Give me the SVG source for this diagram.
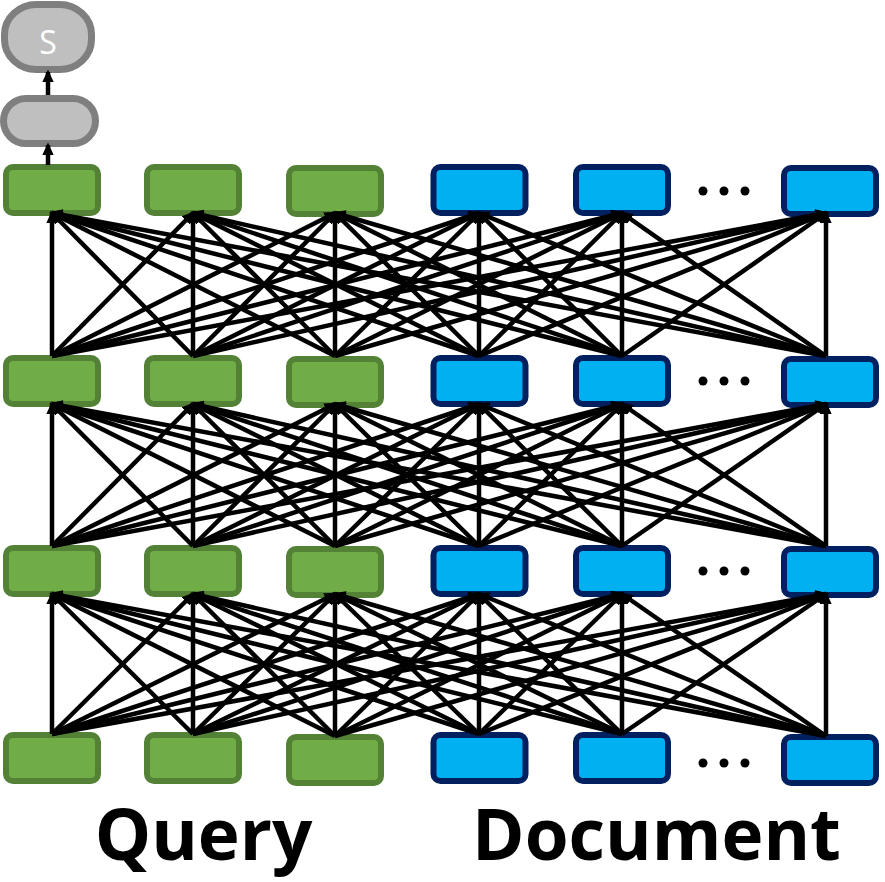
<svg xmlns="http://www.w3.org/2000/svg" width="885" height="882" viewBox="0 0 885 882">
<style>
.q{fill:#70AD47;stroke:#538135;stroke-width:6}
.d{fill:#00B0F0;stroke:#002060;stroke-width:6}
.g{fill:#BFBFBF;stroke:#7F7F7F;stroke-width:7}
.c line{stroke:#000;stroke-width:4.5;marker-end:url(#ah)}
.dot{fill:#000}
.lbl{font-family:"Open Sans","Liberation Sans",sans-serif;font-weight:bold;font-size:71px;fill:#000;text-anchor:middle}
</style>
<defs>
<marker id="ah" viewBox="0 0 10 10" refX="8" refY="5" markerWidth="13" markerHeight="13" markerUnits="userSpaceOnUse" orient="auto">
<path d="M0,0.5 L10,5 L0,9.5 z" fill="#000"/>
</marker>
</defs>
<rect width="885" height="882" fill="#fff"/>
<g id="score"><rect class="g" x="4.5" y="4.5" width="87" height="65" rx="32" ry="30"/><text x="48" y="54" font-family="Open Sans,Liberation Sans,sans-serif" font-size="32" fill="#fff" text-anchor="middle">S</text></g>
<g id="hidden"><rect class="g" x="3.5" y="98.5" width="92" height="45" rx="22.5"/></g>
<g id="row1">
<rect id="q1a" class="q" x="6" y="167" width="92" height="46" rx="7"/>
<rect id="q1b" class="q" x="147" y="167" width="92" height="46" rx="7"/>
<rect id="q1c" class="q" x="289" y="168" width="92" height="46" rx="7"/>
<rect id="d1a" class="d" x="433.5" y="167" width="92" height="46" rx="7"/>
<rect id="d1b" class="d" x="576" y="167" width="92" height="46" rx="7"/>
<rect id="d1c" class="d" x="784" y="168" width="92" height="46" rx="7"/>
</g>
<g id="row2">
<rect class="q" x="6" y="358" width="92" height="46" rx="7"/>
<rect class="q" x="147" y="358" width="92" height="46" rx="7"/>
<rect class="q" x="289" y="359" width="92" height="46" rx="7"/>
<rect class="d" x="433.5" y="358" width="92" height="46" rx="7"/>
<rect class="d" x="576" y="358" width="92" height="46" rx="7"/>
<rect class="d" x="784" y="359" width="92" height="46" rx="7"/>
</g>
<g id="row3">
<rect class="q" x="6" y="548" width="92" height="46" rx="7"/>
<rect class="q" x="147" y="548" width="92" height="46" rx="7"/>
<rect class="q" x="289" y="549" width="92" height="46" rx="7"/>
<rect class="d" x="433.5" y="548" width="92" height="46" rx="7"/>
<rect class="d" x="576" y="548" width="92" height="46" rx="7"/>
<rect class="d" x="784" y="549" width="92" height="46" rx="7"/>
</g>
<g id="row4">
<rect class="q" x="6" y="735" width="92" height="46" rx="7"/>
<rect class="q" x="147" y="735" width="92" height="46" rx="7"/>
<rect class="q" x="289" y="737" width="92" height="46" rx="7"/>
<rect class="d" x="433.5" y="735" width="92" height="46" rx="7"/>
<rect class="d" x="576" y="735" width="92" height="46" rx="7"/>
<rect class="d" x="784" y="737" width="92" height="46" rx="7"/>
</g>
<g id="dots">
<circle class="dot" cx="703" cy="191" r="4.5"/><circle class="dot" cx="724" cy="191" r="4.5"/><circle class="dot" cx="745" cy="191" r="4.5"/>
<circle class="dot" cx="703" cy="381" r="4.5"/><circle class="dot" cx="724" cy="381" r="4.5"/><circle class="dot" cx="745" cy="381" r="4.5"/>
<circle class="dot" cx="703" cy="571" r="4.5"/><circle class="dot" cx="724" cy="571" r="4.5"/><circle class="dot" cx="745" cy="571" r="4.5"/>
<circle class="dot" cx="703" cy="763" r="4.5"/><circle class="dot" cx="724" cy="763" r="4.5"/><circle class="dot" cx="745" cy="763" r="4.5"/>
</g>
<g id="connectors" class="c">
<line x1="48" y1="95" x2="48" y2="72"/>
<line x1="48" y1="165" x2="48" y2="145"/>
<line x1="52" y1="356" x2="52" y2="213"/><line x1="52" y1="356" x2="193" y2="213"/><line x1="52" y1="356" x2="335" y2="213"/><line x1="52" y1="356" x2="479" y2="213"/><line x1="52" y1="356" x2="622" y2="213"/><line x1="52" y1="356" x2="826" y2="213"/>
<line x1="193" y1="356" x2="52" y2="213"/><line x1="193" y1="356" x2="193" y2="213"/><line x1="193" y1="356" x2="335" y2="213"/><line x1="193" y1="356" x2="479" y2="213"/><line x1="193" y1="356" x2="622" y2="213"/><line x1="193" y1="356" x2="826" y2="213"/>
<line x1="335" y1="356" x2="52" y2="213"/><line x1="335" y1="356" x2="193" y2="213"/><line x1="335" y1="356" x2="335" y2="213"/><line x1="335" y1="356" x2="479" y2="213"/><line x1="335" y1="356" x2="622" y2="213"/><line x1="335" y1="356" x2="826" y2="213"/>
<line x1="479" y1="356" x2="52" y2="213"/><line x1="479" y1="356" x2="193" y2="213"/><line x1="479" y1="356" x2="335" y2="213"/><line x1="479" y1="356" x2="479" y2="213"/><line x1="479" y1="356" x2="622" y2="213"/><line x1="479" y1="356" x2="826" y2="213"/>
<line x1="622" y1="356" x2="52" y2="213"/><line x1="622" y1="356" x2="193" y2="213"/><line x1="622" y1="356" x2="335" y2="213"/><line x1="622" y1="356" x2="479" y2="213"/><line x1="622" y1="356" x2="622" y2="213"/><line x1="622" y1="356" x2="826" y2="213"/>
<line x1="826" y1="356" x2="52" y2="213"/><line x1="826" y1="356" x2="193" y2="213"/><line x1="826" y1="356" x2="335" y2="213"/><line x1="826" y1="356" x2="479" y2="213"/><line x1="826" y1="356" x2="622" y2="213"/><line x1="826" y1="356" x2="826" y2="213"/>
<line x1="52" y1="546" x2="52" y2="404"/><line x1="52" y1="546" x2="193" y2="404"/><line x1="52" y1="546" x2="335" y2="404"/><line x1="52" y1="546" x2="479" y2="404"/><line x1="52" y1="546" x2="622" y2="404"/><line x1="52" y1="546" x2="826" y2="404"/>
<line x1="193" y1="546" x2="52" y2="404"/><line x1="193" y1="546" x2="193" y2="404"/><line x1="193" y1="546" x2="335" y2="404"/><line x1="193" y1="546" x2="479" y2="404"/><line x1="193" y1="546" x2="622" y2="404"/><line x1="193" y1="546" x2="826" y2="404"/>
<line x1="335" y1="546" x2="52" y2="404"/><line x1="335" y1="546" x2="193" y2="404"/><line x1="335" y1="546" x2="335" y2="404"/><line x1="335" y1="546" x2="479" y2="404"/><line x1="335" y1="546" x2="622" y2="404"/><line x1="335" y1="546" x2="826" y2="404"/>
<line x1="479" y1="546" x2="52" y2="404"/><line x1="479" y1="546" x2="193" y2="404"/><line x1="479" y1="546" x2="335" y2="404"/><line x1="479" y1="546" x2="479" y2="404"/><line x1="479" y1="546" x2="622" y2="404"/><line x1="479" y1="546" x2="826" y2="404"/>
<line x1="622" y1="546" x2="52" y2="404"/><line x1="622" y1="546" x2="193" y2="404"/><line x1="622" y1="546" x2="335" y2="404"/><line x1="622" y1="546" x2="479" y2="404"/><line x1="622" y1="546" x2="622" y2="404"/><line x1="622" y1="546" x2="826" y2="404"/>
<line x1="826" y1="546" x2="52" y2="404"/><line x1="826" y1="546" x2="193" y2="404"/><line x1="826" y1="546" x2="335" y2="404"/><line x1="826" y1="546" x2="479" y2="404"/><line x1="826" y1="546" x2="622" y2="404"/><line x1="826" y1="546" x2="826" y2="404"/>
<line x1="52" y1="734" x2="52" y2="594"/><line x1="52" y1="734" x2="193" y2="594"/><line x1="52" y1="734" x2="335" y2="594"/><line x1="52" y1="734" x2="479" y2="594"/><line x1="52" y1="734" x2="622" y2="594"/><line x1="52" y1="734" x2="826" y2="594"/>
<line x1="193" y1="734" x2="52" y2="594"/><line x1="193" y1="734" x2="193" y2="594"/><line x1="193" y1="734" x2="335" y2="594"/><line x1="193" y1="734" x2="479" y2="594"/><line x1="193" y1="734" x2="622" y2="594"/><line x1="193" y1="734" x2="826" y2="594"/>
<line x1="335" y1="736" x2="52" y2="594"/><line x1="335" y1="736" x2="193" y2="594"/><line x1="335" y1="736" x2="335" y2="594"/><line x1="335" y1="736" x2="479" y2="594"/><line x1="335" y1="736" x2="622" y2="594"/><line x1="335" y1="736" x2="826" y2="594"/>
<line x1="479" y1="734" x2="52" y2="594"/><line x1="479" y1="734" x2="193" y2="594"/><line x1="479" y1="734" x2="335" y2="594"/><line x1="479" y1="734" x2="479" y2="594"/><line x1="479" y1="734" x2="622" y2="594"/><line x1="479" y1="734" x2="826" y2="594"/>
<line x1="622" y1="734" x2="52" y2="594"/><line x1="622" y1="734" x2="193" y2="594"/><line x1="622" y1="734" x2="335" y2="594"/><line x1="622" y1="734" x2="479" y2="594"/><line x1="622" y1="734" x2="622" y2="594"/><line x1="622" y1="734" x2="826" y2="594"/>
<line x1="826" y1="736" x2="52" y2="594"/><line x1="826" y1="736" x2="193" y2="594"/><line x1="826" y1="736" x2="335" y2="594"/><line x1="826" y1="736" x2="479" y2="594"/><line x1="826" y1="736" x2="622" y2="594"/><line x1="826" y1="736" x2="826" y2="594"/>
</g>
<text class="lbl" x="203.5" y="860">Query</text>
<text class="lbl" x="656.5" y="860">Document</text>
</svg>
